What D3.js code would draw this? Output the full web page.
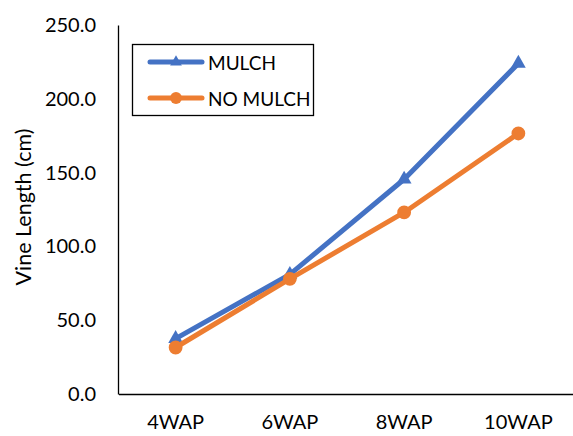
<!DOCTYPE html>
<html>
<head>
<meta charset="utf-8">
<script src="https://cdn.jsdelivr.net/npm/d3@7/dist/d3.min.js"></script>
<style>
  html, body { margin: 0; padding: 0; background: #fff; }
  svg { display: block; }
  text { font-family: Lato, "Liberation Sans", sans-serif; fill: #000; }
</style>
</head>
<body>
<svg id="chart" width="573" height="436"></svg>
<script>
// Vine length by weeks after planting
const weeks = ["4WAP", "6WAP", "8WAP", "10WAP"];
const mulch = [37.5, 81, 145.5, 224];
const noMulch = [31.5, 78, 123, 176.5];
const yTicks = [0, 50, 100, 150, 200, 250];
const seriesNames = ["MULCH", "NO MULCH"];
const seriesColors = ["#4472C4", "#ED7D31"];

const svg = d3.select("#chart");

const x = d3.scaleBand().domain(weeks).range([118.5, 575.5]);
const y = d3.scaleLinear().domain([0, 250]).range([394, 25]);

// Y axis: line + labels only
const yAxis = d3.axisLeft(y).tickValues(yTicks).tickSize(0).tickPadding(22)
  .tickFormat(d3.format(".1f"));
const gy = svg.append("g").attr("transform", `translate(${118},0)`).call(yAxis);
gy.select(".domain").attr("stroke", "#000").attr("stroke-width", 1.3);
gy.selectAll("text").style("font-size", "20px").style("font-family", "Lato, 'Liberation Sans', sans-serif");

// X axis
const xAxis = d3.axisBottom(x).tickSize(0).tickPadding(21);
const gx = svg.append("g").attr("transform", `translate(0,${394})`).call(xAxis);
gx.select(".domain").attr("stroke", "#000").attr("stroke-width", 1.3);
gx.selectAll("text").style("font-size", "20px").style("font-family", "Lato, 'Liberation Sans', sans-serif");

// Y axis title
svg.append("text")
  .attr("transform", `translate(23,${207}) rotate(-90)`)
  .attr("text-anchor", "middle")
  .attr("dominant-baseline", "central")
  .style("font-size", "21.5px")
  .text("Vine Length (cm)");

const cx = d => x(d) + x.bandwidth() / 2;
const line = d3.line().x((d, i) => cx(weeks[i])).y(d => y(d));

const tri = d3.symbol().type(d3.symbolTriangle).size(95);
const circ = d3.symbol().type(d3.symbolCircle).size(150);

const series = [mulch, noMulch];
series.forEach((vals, s) => {
  const g = svg.append("g");
  g.append("path").datum(vals)
    .attr("d", line)
    .attr("fill", "none")
    .attr("stroke", seriesColors[s])
    .attr("stroke-width", 5)
    .attr("stroke-linejoin", "round")
    .attr("stroke-linecap", "round");
  g.selectAll("path.mk").data(vals).join("path")
    .attr("class", "mk")
    .attr("transform", (d, i) => `translate(${cx(weeks[i])},${y(d)})`)
    .attr("d", s === 0 ? tri : circ)
    .attr("fill", seriesColors[s]);
});

// Legend
const leg = svg.append("g");
leg.append("rect").attr("x", 132.5).attr("y", 44.5).attr("width", 181).attr("height", 71)
  .attr("fill", "#fff").attr("stroke", "#000").attr("stroke-width", 1.3);
const legY = [62, 98];
seriesNames.forEach((name, s) => {
  leg.append("line").attr("x1", 150).attr("x2", 202).attr("y1", legY[s]).attr("y2", legY[s])
    .attr("stroke", seriesColors[s]).attr("stroke-width", 5).attr("stroke-linecap", "round");
  leg.append("path").attr("transform", `translate(176,${legY[s]})`)
    .attr("d", s === 0 ? d3.symbol().type(d3.symbolTriangle).size(60)() : d3.symbol().type(d3.symbolCircle).size(110)())
    .attr("fill", seriesColors[s]);
  leg.append("text").attr("x", 208).attr("y", legY[s]).attr("dominant-baseline", "central")
    .style("font-size", "19px").text(name);
});
</script>
</body>
</html>
